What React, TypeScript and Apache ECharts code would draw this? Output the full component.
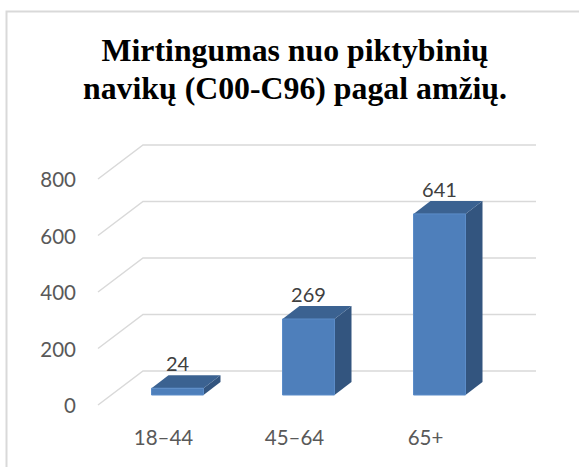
import React, { useEffect, useRef } from "react";
import * as echarts from "echarts";

const titleText = "Mirtingumas nuo piktybinių\nnavikų (C00-C96) pagal amžių.";
const categories = ["18–44", "45–64", "65+"];
const values = [24, 269, 641];
const gridTicks = [0, 200, 400, 600, 800];

const FONT = "Lato, Carlito, 'Open Sans', sans-serif";

export default function App() {
  const ref = useRef<HTMLDivElement>(null);
  useEffect(() => {
    const chart = echarts.init(ref.current!, undefined, { renderer: "svg" });
    const depthX = 45;
    const depthY = 34;
    chart.setOption({
      animation: false,
      backgroundColor: "#ffffff",
      title: {
        text: titleText,
        left: 290,
        top: 26,
        textAlign: "center",
        textStyle: {
          fontFamily: "'Liberation Serif', serif",
          fontWeight: "bold",
          fontSize: 31.8,
          lineHeight: 38,
          color: "#000000",
        },
      },
      grid: { left: 98, right: 88, top: 179, bottom: 62, containLabel: false },
      xAxis: {
        type: "category",
        data: categories,
        axisLine: { show: false },
        axisTick: { show: false },
        axisLabel: { color: "#595959", fontFamily: FONT, fontSize: 20.5, margin: 21 },
      },
      yAxis: {
        type: "value",
        min: 0,
        max: 800,
        interval: 200,
        axisLine: { show: false },
        axisTick: { show: false },
        splitLine: { show: false },
        axisLabel: { color: "#595959", fontFamily: FONT, fontSize: 20.5, margin: 22 },
      },
      graphic: [
        {
          type: "polyline",
          shape: { points: [[6.5, 467], [6.5, 11.5], [579, 11.5]] },
          style: { stroke: "#d9d9d9", lineWidth: 2, fill: "none" },
          silent: true,
        },
      ],
      series: [
        {
          type: "custom",
          z: 1,
          data: gridTicks.map((t) => [0, t]),
          renderItem: (params: any, api: any) => {
            const cs = params.coordSys;
            const y = api.coord([0, api.value(1)])[1];
            return {
              type: "polyline",
              shape: {
                points: [
                  [cs.x, y],
                  [cs.x + depthX, y - depthY],
                  [cs.x + cs.width + depthX, y - depthY],
                ],
              },
              style: { stroke: "#d9d9d9", lineWidth: 1.5, fill: "none" },
            };
          },
        },
        {
          type: "custom",
          z: 2,
          data: values.map((v, i) => [i, v]),
          renderItem: (params: any, api: any) => {
            const v = api.value(1);
            const c = api.coord([api.value(0), v]);
            const base = api.coord([api.value(0), 0]);
            const w = 52;
            const dx = 17;
            const dy = 13;
            const x0 = c[0] - 12;
            const x1 = x0 + w;
            const yb = base[1] - 10;
            const yt = c[1] - 10;
            return {
              type: "group",
              children: [
                {
                  type: "polygon",
                  shape: { points: [[x1, yt], [x1 + dx, yt - dy], [x1 + dx, yb - dy], [x1, yb]] },
                  style: { fill: "#33557F" },
                },
                {
                  type: "polygon",
                  shape: { points: [[x0, yt], [x0 + dx, yt - dy], [x1 + dx, yt - dy], [x1, yt]] },
                  style: { fill: "#3B6291" },
                },
                {
                  type: "rect",
                  shape: { x: x0, y: yt, width: w, height: yb - yt },
                  style: { fill: "#4E7FBB", stroke: "#5B8CC8", lineWidth: 1 },
                },
                {
                  type: "text",
                  x: x0 + w / 2,
                  y: yt - dy - 12,
                  style: {
                    text: String(v),
                    fill: "#404040",
                    font: `20px ${FONT}`,
                    textAlign: "center",
                    textVerticalAlign: "middle",
                  },
                },
              ],
            };
          },
        },
      ],
    });
    return () => chart.dispose();
  }, []);
  return (
    <div
      ref={ref}
      style={{ position: "absolute", left: 0, top: 0, width: 579, height: 467 }}
    />
  );
}
